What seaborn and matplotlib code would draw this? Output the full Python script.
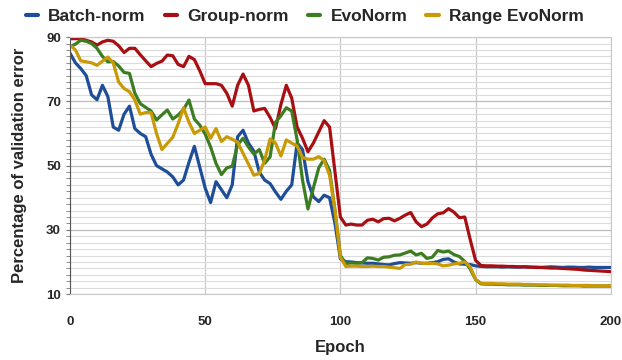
import numpy as np
import pandas as pd
import matplotlib
matplotlib.use("Agg")
import matplotlib.pyplot as plt
import seaborn as sns

# --- Data (every 2 epochs) ---
epochs = list(range(0, 201, 2))

batch_norm = [
    85, 82, 80.2, 78, 72, 70.5, 75, 71.5, 62, 61,
    66, 68.5, 61.5, 60, 59, 53.5, 50, 49, 48, 46.5,
    44, 45.5, 51, 56, 49.5, 43, 38.5, 45, 42.5, 40,
    44, 59, 61, 57, 54.5, 48, 45.5, 44.4, 41.8, 39.5,
    42, 44, 57, 55, 45, 40.3, 38.8, 40.8, 40, 32,
    21, 20.1, 20, 19.8, 19.7, 19.6, 19.6, 19.4, 19.2, 19.1,
    19.5, 19.8, 19.7, 19.6, 19.8, 19.6, 19.6, 19.8, 20.1, 20.8,
    21, 20, 19.4, 19.3, 19.2, 18.8, 18.6, 18.5, 18.5, 18.5,
    18.4, 18.5, 18.4, 18.4, 18.5, 18.4, 18.4, 18.3, 18.4, 18.5,
    18.4, 18.3, 18.4, 18.4, 18.3, 18.3, 18.4, 18.3, 18.3, 18.3,
    18.3,
]

group_norm = [
    89.5, 89.5, 89.5, 89, 88.5, 87.5, 88.5, 89, 88.7, 87.3,
    85.2, 86.5, 86.5, 84.5, 82.6, 80.8, 81.8, 82.5, 84.4, 84.2,
    81.5, 80.8, 84, 83, 79.5, 75.5, 75.5, 75.5, 75, 72.5,
    68.5, 75, 78.5, 75, 67, 67.5, 67.8, 65, 61.5, 69,
    75, 71, 62, 58.5, 54.3, 57, 60.5, 64, 62, 48,
    34, 31.5, 31.8, 31.5, 31.5, 33, 33.3, 32.5, 33.5, 33.6,
    32.8, 33.6, 34.6, 35.4, 32.5, 31, 31.8, 33.7, 35, 35.3,
    36.6, 35.5, 33.8, 34, 27, 20.5, 18.9, 18.8, 18.8, 18.7,
    18.7, 18.6, 18.6, 18.5, 18.5, 18.4, 18.3, 18.3, 18.2, 18.1,
    18.1, 18, 17.9, 17.8, 17.7, 17.5, 17.4, 17.3, 17.2, 17.1,
    17,
]

evonorm = [
    87, 87.8, 89, 88.7, 88, 86.5, 84, 82.3, 82.4, 81,
    79, 78.7, 72.5, 69.3, 68.1, 67, 64.2, 65.8, 67.3, 64.5,
    65.7, 67.5, 70.4, 64.5, 62.6, 59.8, 55.8, 50.7, 47.2, 49.3,
    49.8, 56.5, 58.5, 55.8, 53.6, 55, 50.7, 52.7, 63.5, 65.5,
    68, 67, 58, 45.5, 36.5, 43, 49.3, 52, 48.5, 36,
    22, 19.5, 19.7, 19.6, 19.8, 21.3, 21.1, 20.6, 21.5, 21.6,
    22.1, 22.2, 22.8, 23.4, 22.2, 22.7, 21.1, 21.5, 23.6, 23.1,
    23.4, 22.3, 21.7, 20.2, 17.8, 14.5, 13.2, 13.1, 13.1, 13,
    13, 12.9, 12.9, 12.9, 12.8, 12.8, 12.8, 12.7, 12.7, 12.7,
    12.7, 12.6, 12.6, 12.6, 12.6, 12.5, 12.5, 12.5, 12.5, 12.5,
    12.5,
]

range_evonorm = [
    87.5, 86, 82.6, 82.3, 82, 81.2, 82.5, 83.8, 82, 76,
    74, 73, 70.4, 66, 66.5, 66.5, 60, 55, 56.9, 58.8,
    63, 68, 63.5, 60, 61, 62, 58.5, 61.5, 57.5, 59,
    58.2, 57.3, 53.8, 50.5, 47, 47.5, 51.7, 58.3, 57, 53,
    58, 57, 56.1, 52.5, 52, 52, 52.8, 51.5, 47, 36.1,
    21.5, 18.6, 18.7, 18.7, 18.6, 18.6, 18.7, 18.6, 18.6, 18.4,
    18.2, 18, 19.2, 19.3, 20, 19.6, 19.5, 19.6, 19.4, 18.8,
    19, 19.4, 19.6, 20, 18.5, 14.6, 13.4, 13.3, 13.3, 13.2,
    13.2, 13.1, 13.1, 13.1, 13, 13, 12.9, 12.9, 12.9, 12.8,
    12.8, 12.8, 12.8, 12.7, 12.7, 12.7, 12.7, 12.6, 12.6, 12.6,
    12.6,
]

series_names = ["Batch-norm", "Group-norm", "EvoNorm", "Range EvoNorm"]
colors = ["#1f4e99", "#a80f12", "#3c7d22", "#c99a06"]

df = pd.concat([
    pd.DataFrame({"Epoch": epochs, "value": vals, "method": name})
    for name, vals in zip(series_names, [batch_norm, group_norm, evonorm, range_evonorm])
])

# --- Style ---
sns.set_style("white")
plt.rcParams["font.family"] = ["Liberation Sans", "DejaVu Sans"]

fig = plt.figure(figsize=(6.22, 3.6), dpi=100)
ax = fig.add_axes([0.1125, 0.183, 0.8695, 0.714])

sns.lineplot(data=df, x="Epoch", y="value", hue="method", palette=colors,
             linewidth=2.3, ax=ax, legend=False)

ax.set_xlim(0, 200)
ax.set_ylim(10, 90)
ax.set_xticks([0, 50, 100, 150, 200])
ax.set_yticks([10, 30, 50, 70, 90])
ax.set_yticks(np.arange(10, 91, 2), minor=True)

ax.grid(which="minor", axis="y", color="#dcdcdc", linewidth=0.8)
ax.grid(which="major", axis="y", color="#bdbdbd", linewidth=0.9)
ax.grid(which="major", axis="x", color="#c8c8c8", linewidth=0.9)
ax.set_axisbelow(True)

for side in ["top", "right", "bottom"]:
    ax.spines[side].set_color("#c8c8c8")
ax.spines["left"].set_color("#555555")

ax.tick_params(axis="y", which="both", left=True, length=3, color="#777777", labelsize=9.5)
ax.tick_params(axis="x", which="both", bottom=False, labelsize=9.5, pad=12)
for lab in ax.get_xticklabels() + ax.get_yticklabels():
    lab.set_fontweight("bold")

ax.set_xlabel("Epoch", fontsize=12, fontweight="bold", labelpad=9)
ax.set_ylabel("Percentage of validation error", fontsize=12, fontweight="bold", labelpad=14)

handles = [plt.Line2D([], [], color=c, linewidth=3) for c in colors]
fig.legend(handles, series_names, loc="upper center", bbox_to_anchor=(0.49, 1.02),
           ncol=4, frameon=False, handlelength=0.7, columnspacing=1.1,
           handletextpad=0.6, prop={"weight": "bold", "size": 12.5})

fig.savefig("out.png", dpi=100)
